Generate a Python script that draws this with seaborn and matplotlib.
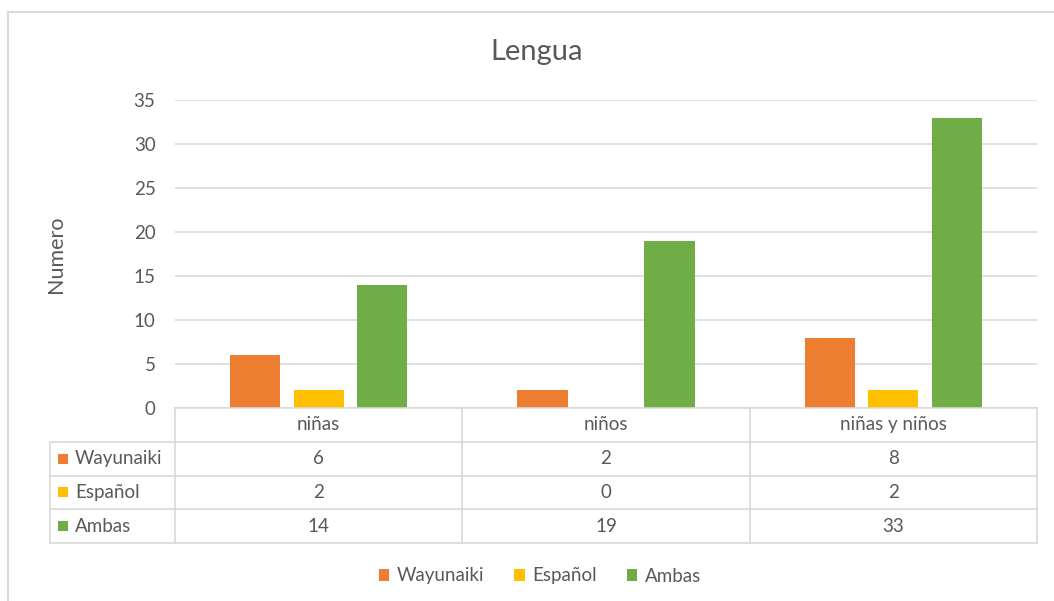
import matplotlib
matplotlib.use("Agg")
import matplotlib.pyplot as plt
import seaborn as sns
import pandas as pd
from matplotlib.patches import Rectangle
from matplotlib.lines import Line2D

categories = ["niñas", "niños", "niñas y niños"]
series = ["Wayunaiki", "Español", "Ambas"]
wayunaiki = [6, 2, 8]
espanol = [2, 0, 2]
ambas = [14, 19, 33]
colors = ["#ED7D31", "#FFC000", "#70AD47"]
yticks = [0, 5, 10, 15, 20, 25, 30, 35]

values = {"Wayunaiki": wayunaiki, "Español": espanol, "Ambas": ambas}
rows = []
for s in series:
    for c, v in zip(categories, values[s]):
        rows.append({"Categoria": c, "Serie": s, "Numero": v})
df = pd.DataFrame(rows)

sns.set_theme(style="white")
plt.rcParams["font.family"] = ["Lato", "DejaVu Sans"]
TXT = "#595959"
GRID = "#d9d9d9"

W, H = 1054, 601
fig = plt.figure(figsize=(W / 100, H / 100), dpi=100)
fig.patch.set_facecolor("white")

def fx(px):
    return px / W

def fy(py):
    return 1 - py / H

ax = fig.add_axes([fx(175), fy(408), fx(1037) - fx(175), fy(100) - fy(408)])
sns.barplot(data=df, x="Categoria", y="Numero", hue="Serie", order=categories,
            hue_order=series, palette=colors, width=0.663, gap=0.21,
            saturation=1, ax=ax, legend=True, linewidth=0)
ax.set_xlim(-0.5, 2.5)
ax.set_ylim(0, 35)
ax.set_yticks(yticks)
ax.set_yticklabels([str(t) for t in yticks], color=TXT, fontsize=13.5)
ax.tick_params(axis="y", length=0, pad=14)
ax.set_xticks([])
ax.set_xlabel("")
ax.set_ylabel("Numero", color=TXT, fontsize=15.5)
ax.yaxis.set_label_coords(-0.126, 0.5)
ax.grid(axis="y", color=GRID, linewidth=1.2)
ax.set_axisbelow(True)
for side in ["left", "right", "top"]:
    ax.spines[side].set_visible(False)
ax.spines["bottom"].set_color(GRID)
ax.spines["bottom"].set_linewidth(1.2)

handles, labels = ax.get_legend_handles_labels()
ax.get_legend().remove()

# Data table below the plot
tax = fig.add_axes([fx(175), fy(543), fx(1037) - fx(175), fy(408) - fy(543)], sharex=ax)
tax.set_ylim(4, 0)
tax.axis("off")
left_x = -0.5 - (175 - 50) / ((1037 - 175) / 3)
lkw = dict(color=GRID, linewidth=1.2, clip_on=False)
for xb in [-0.5, 0.5, 1.5, 2.5]:
    tax.plot([xb, xb], [0, 4], **lkw)
tax.plot([left_x, left_x], [1, 4], **lkw)
for yb in [1, 2, 3, 4]:
    tax.plot([left_x, 2.5], [yb, yb], **lkw)
for i, c in enumerate(categories):
    tax.text(i, 0.5, c, ha="center", va="center", color=TXT, fontsize=13.5)
sq_w = 10 / ((1037 - 175) / 3)
sq_h = 10 / (135 / 4)
for r, s in enumerate(series):
    yc = r + 1.5
    tax.add_patch(Rectangle((left_x + 8 / 287, yc - sq_h / 2), sq_w, sq_h,
                            facecolor=colors[r], edgecolor="none", clip_on=False))
    tax.text(left_x + 25 / 287, yc, s, ha="left", va="center", color=TXT, fontsize=13.5)
    for i, v in enumerate(values[s]):
        tax.text(i, yc, str(v), ha="center", va="center", color=TXT, fontsize=13.5)

fig.suptitle("Lengua", x=fx(537), y=fy(52), va="center", color=TXT, fontsize=21)

fig.legend(handles, labels, loc="center", bbox_to_anchor=(fx(540), fy(576)),
           ncol=3, frameon=False, fontsize=13.5, labelcolor=TXT,
           handlelength=0.55, handleheight=0.55, handletextpad=0.4,
           columnspacing=1.6)

# chart border
fig.add_artist(Line2D([fx(8), fx(8)], [fy(12), 0], color=GRID, linewidth=1.5))
fig.add_artist(Line2D([fx(8), 1], [fy(12), fy(12)], color=GRID, linewidth=1.5))

fig.savefig("out.png", dpi=100, facecolor="white")
